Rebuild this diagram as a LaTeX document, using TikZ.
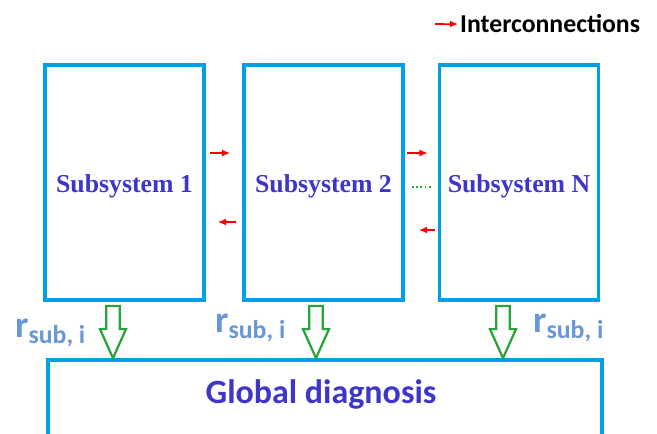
\documentclass[tikz,border=0pt]{standalone}
\usepackage{fontspec}
\setmainfont{Liberation Serif}
\newfontfamily\calibri{Carlito}
\usetikzlibrary{calc,arrows.meta}

\definecolor{boxblue}{RGB}{0,160,230}
\definecolor{txtblue}{RGB}{62,54,200}
\definecolor{resblue}{RGB}{105,150,215}
\definecolor{flowgreen}{RGB}{35,165,55}

\tikzset{
  subbox/.style={draw=boxblue, line width=3.2pt, minimum width=4.77cm, minimum height=7.05cm,
    inner sep=0pt, text=txtblue, font=\bfseries\fontsize{22}{24}\selectfont},
  inter/.style={red, line width=1.3pt, -{Latex[length=7pt,width=6pt]}},
  flow/.style={draw=flowgreen, line width=1.9pt, fill=white},
  res/.style={anchor=base west, inner sep=0pt, text=resblue, font=\calibri\bfseries\fontsize{32}{34}\selectfont},
}
\newcommand{\subi}{\raisebox{-0.18cm}{\fontsize{22}{24}\selectfont sub, i}}

\begin{document}
\begin{tikzpicture}
  \useasboundingbox (0,0) rectangle (19.71,-13.02);
  \clip (0,0) rectangle (19.71,-13.02);

  % subsystems
  \node[subbox] (sub1) at (3.735,-5.475) {};
  \node[subbox] (sub2) at (9.705,-5.475) {};
  \node[subbox] (subN) at (15.57,-5.475) {};
  \foreach \n/\t in {sub1/Subsystem 1, sub2/Subsystem 2, subN/Subsystem N}
    \node[anchor=base, text=txtblue, font=\bfseries\fontsize{22}{24}\selectfont] at ([yshift=-0.3cm]\n.center) {\t};

  % global diagnosis
  \node[draw=boxblue, line width=3.2pt, minimum width=16.62cm, minimum height=3cm] (global) at (9.75,-12.3) {};
  \node[anchor=base, text=txtblue, font=\calibri\bfseries\fontsize{29}{32}\selectfont] (gdiag)
    at ([xshift=-0.12cm,yshift=-1.35cm]global.north) {Global diagnosis};

  % interconnections
  \draw[inter] ([shift={(0.12,0.885)}]sub1.east) -- ([shift={(-0.36,0.885)}]sub2.west);
  \draw[inter] ([shift={(-0.18,-1.185)}]sub2.west) -- ([shift={(0.36,-1.185)}]sub1.east);
  \draw[inter] ([shift={(0.06,0.885)}]sub2.east) -- ([shift={(-0.3,0.885)}]subN.west);
  \draw[inter] ([shift={(-0.09,-1.425)}]subN.west) -- ([shift={(0.42,-1.425)}]sub2.east);
  \draw[flowgreen, dotted, line width=1.6pt] ([shift={(0.21,-0.135)}]sub2.east) -- ([shift={(-0.21,-0.135)}]subN.west);

  % residuals to the global diagnosis
  \foreach \n/\x in {sub1/3.39, sub2/9.48, subN/15.09}{
    \coordinate (top) at ([yshift=-0.12cm]\x,0 |- \n.south);
    \coordinate (tip) at (\x,0 |- global.north);
    \draw[flow] let \p1=(top), \p2=(tip) in
      (\x1-0.2cm,\y1) -- (\x1+0.2cm,\y1) -- (\x1+0.2cm,\y2+0.87cm) -- (\x1+0.39cm,\y2+0.87cm)
      -- (\x2,\y2) -- (\x1-0.39cm,\y2+0.87cm) -- (\x1-0.2cm,\y2+0.87cm) -- cycle;
  }
  \node[res] (r1) at (0.45,-10.11) {r\subi};
  \node[res] (r2) at (6.45,-9.96) {r\subi};
  \node[res] (rN) at (15.99,-9.96) {r\subi};

  % legend
  \node[anchor=base west, inner sep=0pt, font=\calibri\bfseries\fontsize{22}{24}\selectfont] (legend)
    at (13.8,-0.99) {Interconnections};
  \coordinate (legtail) at (13.05,-0.72);
  \draw[inter] (legtail) -- ([xshift=-0.06cm]legend.west);
\end{tikzpicture}
\end{document}
